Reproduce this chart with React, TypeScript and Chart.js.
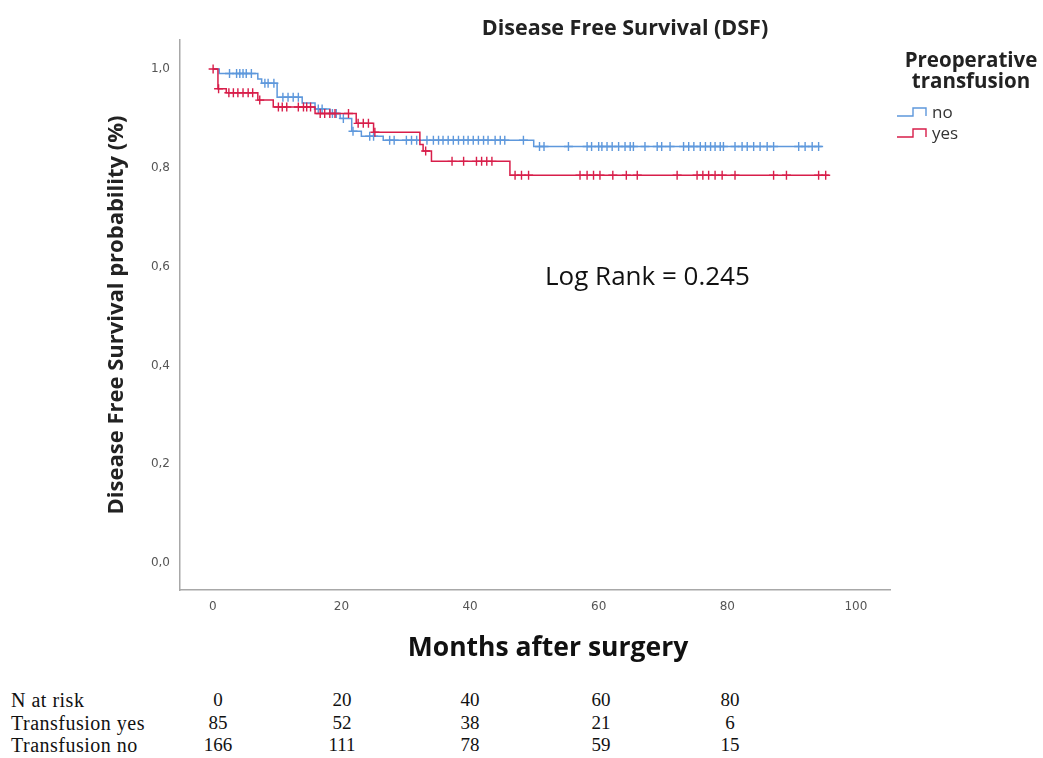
import React, { useEffect, useRef } from "react";
import { Chart, registerables } from "chart.js";

Chart.register(...registerables);

// ---- axis ticks ----
const xTickValues = [0, 20, 40, 60, 80, 100];
const xTickLabels = ["0", "20", "40", "60", "80", "100"];
const yTickValues = [0, 0.2, 0.4, 0.6, 0.8, 1.0];
const yTickLabels = ["0,0", "0,2", "0,4", "0,6", "0,8", "1,0"];

// ---- Kaplan-Meier steps: transfusion "no" ----
const noTimes = [0, 1.0, 7.0, 7.6, 10.0, 13.9, 15.9, 18.2, 19.8, 21.6, 23.1, 26.5, 49.9, 94.7];
const noSurv = [1.0, 0.991, 0.98, 0.971, 0.943, 0.931, 0.919, 0.91, 0.9, 0.874, 0.864, 0.856, 0.843, 0.843];
const noCensored = [
  2.6, 3.7, 4.2, 4.7, 5.2, 6.0, 8.1, 8.6, 9.5, 10.9, 11.7, 12.5, 13.3, 16.4, 17.0, 18.6, 19.2, 20.3,
  21.8, 24.4, 25.0, 27.5, 28.2, 30.1, 30.9, 31.7, 33.3, 34.3, 35.1, 35.8, 36.6, 37.4, 38.2, 39.0,
  39.7, 40.5, 41.3, 42.1, 42.8, 43.9, 44.7, 45.4, 48.3, 50.8, 51.5, 55.3, 58.2, 58.9, 60.0, 60.5,
  61.3, 62.1, 63.1, 64.1, 64.9, 65.4, 67.2, 69.1, 69.8, 71.1, 73.2, 74.0, 74.8, 75.8, 76.6, 77.4,
  78.1, 78.9, 79.4, 81.2, 82.3, 83.1, 84.1, 85.1, 86.2, 87.2, 91.1, 92.1, 93.2, 94.2,
];

// ---- Kaplan-Meier steps: transfusion "yes" ----
const yesTimes = [0, 0.8, 2.1, 7.0, 9.4, 15.9, 22.3, 25.0, 32.2, 32.7, 34.0, 46.2, 95.8];
const yesSurv = [1.0, 0.96, 0.952, 0.937, 0.923, 0.91, 0.89, 0.872, 0.847, 0.834, 0.813, 0.785, 0.785];
const yesCensored = [
  0.05, 0.9, 2.5, 3.2, 3.9, 4.7, 5.5, 6.2, 7.3, 10.2, 10.8, 11.5, 13.3, 14.1, 14.6, 15.2, 16.7, 17.4,
  18.2, 19.0, 21.1, 22.6, 23.4, 24.2, 25.2, 33.1, 37.2, 39.0, 41.0, 41.8, 42.6, 43.4, 47.0, 48.0,
  49.1, 57.1, 58.2, 59.2, 60.2, 62.2, 64.3, 66.0, 72.2, 75.3, 76.2, 77.1, 78.1, 79.2, 81.2, 87.2,
  89.2, 94.2, 95.3,
];

// ---- number at risk table ----
const riskTimes = ["0", "20", "40", "60", "80"];
const riskYes = [85, 52, 38, 21, 6];
const riskNo = [166, 111, 78, 59, 15];

const BLUE = "#5e98dc";
const RED = "#d81e4a";
const SANS = "'Open Sans', 'DejaVu Sans', sans-serif";
const SERIF = "'Liberation Serif', serif";

function survAt(times: number[], surv: number[], t: number): number {
  let v = surv[0];
  for (let i = 0; i < times.length; i++) {
    if (times[i] <= t) v = surv[i];
  }
  return v;
}

function stepPoints(times: number[], surv: number[]) {
  return times.map((t, i) => ({ x: t, y: surv[i] }));
}

function censorPoints(times: number[], surv: number[], cens: number[]) {
  return cens.map((t) => ({ x: t, y: survAt(times, surv, t) }));
}

const riskColX = [218, 342, 470, 601, 730];

const LegendIcon = ({ color }: { color: string }) => (
  <svg width="32" height="12" style={{ position: "absolute", left: -36, top: 4 }}>
    <polyline points="1,10 17,10 17,2 30,2 30,10" fill="none" stroke={color} strokeWidth="1.4" />
  </svg>
);

export default function App() {
  const canvasRef = useRef<HTMLCanvasElement | null>(null);

  useEffect(() => {
    if (!canvasRef.current) return;
    const chart = new Chart(canvasRef.current, {
      type: "scatter",
      data: {
        datasets: [
          {
            label: "yes",
            data: stepPoints(yesTimes, yesSurv),
            showLine: true,
            stepped: "before",
            borderColor: RED,
            borderWidth: 1.5,
            pointRadius: 0,
            fill: false,
          },
          {
            label: "yes censored",
            data: censorPoints(yesTimes, yesSurv, yesCensored),
            showLine: false,
            pointStyle: "cross",
            pointRadius: 4.5,
            pointBorderWidth: 1.4,
            borderColor: RED,
            backgroundColor: RED,
          },
          {
            label: "no",
            data: stepPoints(noTimes, noSurv),
            showLine: true,
            stepped: "before",
            borderColor: BLUE,
            borderWidth: 1.5,
            pointRadius: 0,
            fill: false,
          },
          {
            label: "no censored",
            data: censorPoints(noTimes, noSurv, noCensored),
            showLine: false,
            pointStyle: "cross",
            pointRadius: 4.5,
            pointBorderWidth: 1.4,
            borderColor: BLUE,
            backgroundColor: BLUE,
          },
        ],
      },
      options: {
        animation: false,
        responsive: true,
        maintainAspectRatio: false,
        layout: { padding: { top: 40, right: 153, bottom: 0, left: 100 } },
        plugins: {
          legend: { display: false },
          tooltip: { enabled: false },
          title: { display: false },
        },
        scales: {
          x: {
            type: "linear",
            min: -5.1,
            max: 105.3,
            afterFit: (s: any) => {
              s.height = 80;
            },
            afterBuildTicks: (s: any) => {
              s.ticks = xTickValues.map((v) => ({ value: v }));
            },
            grid: { display: false, drawTicks: false },
            border: { display: true, color: "#a8a8a8", width: 1.5 },
            ticks: {
              padding: 10,
              autoSkip: false,
              maxRotation: 0,
              color: "#555",
              font: { family: "'DejaVu Sans', sans-serif", size: 12 },
              callback: (_v: any, i: number) => xTickLabels[i],
            },
          },
          y: {
            type: "linear",
            min: -0.0547,
            max: 1.0587,
            afterFit: (s: any) => {
              s.width = 80;
            },
            afterBuildTicks: (s: any) => {
              s.ticks = yTickValues.map((v) => ({ value: v }));
            },
            grid: { display: false, drawTicks: false },
            border: { display: true, color: "#a8a8a8", width: 1.5 },
            ticks: {
              padding: 10,
              autoSkip: false,
              color: "#555",
              font: { family: "'DejaVu Sans', sans-serif", size: 12 },
              callback: (_v: any, i: number) => yTickLabels[i],
            },
            title: {
              display: true,
              text: "Disease Free Survival probability (%)",
              color: "#222",
              font: { family: SANS, size: 22, weight: "bold" },
              padding: { top: 4, bottom: 0 },
            },
          },
        },
      },
    } as any);
    return () => chart.destroy();
  }, []);

  const abs = (o: React.CSSProperties): React.CSSProperties => ({ position: "absolute", whiteSpace: "nowrap", ...o });

  return (
    <div style={{ position: "absolute", left: 0, top: 0, width: 1043, height: 758, background: "#fff", fontFamily: SANS }}>
      <div style={{ position: "absolute", left: 0, top: 0, width: 1043, height: 670 }}>
        <canvas ref={canvasRef} />
      </div>

      <div style={abs({ left: 625, top: 14, transform: "translateX(-50%)", fontSize: 21.5, lineHeight: "26px", fontWeight: "bold", color: "#222" })}>
        Disease Free Survival (DSF)
      </div>

      <div style={abs({ left: 545, top: 259, fontSize: 26, lineHeight: "32px", color: "#111" })}>Log Rank = 0.245</div>

      <div style={abs({ left: 548, top: 630, transform: "translateX(-50%)", fontSize: 26.5, lineHeight: "32px", fontWeight: "bold", color: "#111" })}>
        Months after surgery
      </div>

      <div style={abs({ left: 971, top: 49, transform: "translateX(-50%)", fontSize: 20.5, lineHeight: "21px", fontWeight: "bold", color: "#222", textAlign: "center" })}>
        Preoperative
        <br />
        transfusion
      </div>
      <div style={abs({ left: 932, top: 102, fontSize: 17, lineHeight: "20px", color: "#333" })}>
        <LegendIcon color={BLUE} />
        no
      </div>
      <div style={abs({ left: 932, top: 123, fontSize: 17, lineHeight: "20px", color: "#333" })}>
        <LegendIcon color={RED} />
        yes
      </div>

      {[
        { label: "N at risk", values: riskTimes, y: 700 },
        { label: "Transfusion yes", values: riskYes.map(String), y: 722.5 },
        { label: "Transfusion no", values: riskNo.map(String), y: 745 },
      ].map((row) => (
        <React.Fragment key={row.label}>
          <div style={abs({ left: 11, top: row.y - 11, fontFamily: SERIF, fontSize: 20, lineHeight: "22px", letterSpacing: "0.5px", color: "#111" })}>
            {row.label}
          </div>
          {row.values.map((v, i) => (
            <div
              key={i}
              style={abs({ left: riskColX[i], top: row.y - 11, transform: "translateX(-50%)", fontFamily: SERIF, fontSize: 19, lineHeight: "22px", color: "#111" })}
            >
              {v}
            </div>
          ))}
        </React.Fragment>
      ))}
    </div>
  );
}
